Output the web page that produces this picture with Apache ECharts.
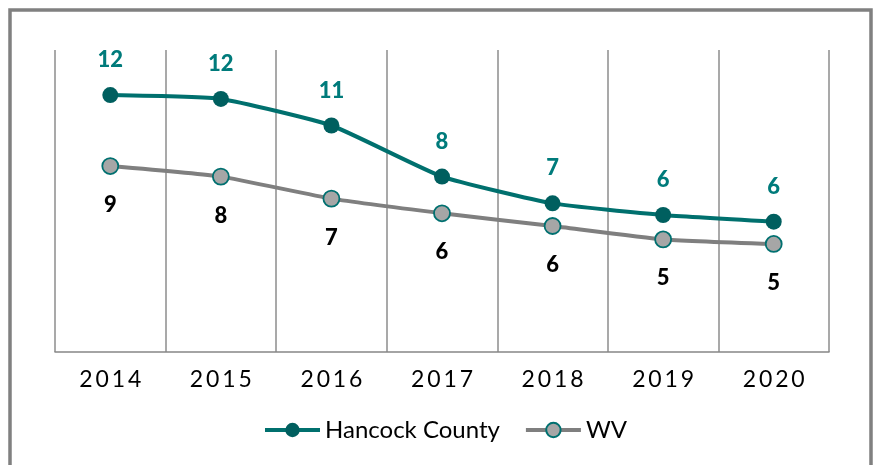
<!DOCTYPE html>
<html>
<head>
<meta charset="utf-8">
<script src="https://cdn.jsdelivr.net/npm/echarts@6/dist/echarts.min.js"></script>
<style>
  html, body { margin: 0; padding: 0; background: #fff; }
  #chart { width: 875px; height: 465px; }
</style>
</head>
<body>
<div id="chart"></div>
<script>
// values (labels show the rounded value)
const years = ['2014', '2015', '2016', '2017', '2018', '2019', '2020']
const hancock = [11.91, 11.73, 10.5, 8.13, 6.89, 6.35, 6.04]
const wv = [8.62, 8.13, 7.11, 6.43, 5.84, 5.22, 5.01]

const chart = echarts.init(document.getElementById('chart'))

const font = 'Lato, "Open Sans", sans-serif'

chart.setOption({
  animation: false,
  graphic: [{
    type: 'rect',
    shape: { x: 10, y: 10, width: 861, height: 480 },
    style: { fill: 'none', stroke: '#808080', lineWidth: 3.5 },
    silent: true
  }],
  grid: { left: 55, right: 46, top: 50, bottom: 113 },
  legend: {
    left: 258,
    top: 413,
    itemWidth: 55,
    itemHeight: 18,
    itemGap: 24,
    lineStyle: { width: 4 },
    textStyle: { fontFamily: font, fontSize: 24, color: '#000' },
    data: ['Hancock County', 'WV']
  },
  xAxis: {
    type: 'category',
    data: years,
    boundaryGap: true,
    axisLine: { lineStyle: { color: '#868686', width: 1.5 } },
    axisTick: { length: 8, lineStyle: { color: '#868686', width: 1.5 } },
    splitLine: { show: true, lineStyle: { color: '#8c8c8c', width: 1.5 } },
    axisLabel: {
      margin: 16,
      fontFamily: font,
      fontSize: 23,
      color: '#000',
      formatter: v => v.split('').join('\u2009')
    }
  },
  yAxis: {
    type: 'value',
    min: 0,
    max: 14,
    show: false
  },
  series: [
    {
      name: 'Hancock County',
      type: 'line',
      data: hancock,
      smooth: 0.15,
      symbol: 'circle',
      symbolSize: 16,
      lineStyle: { color: '#00706e', width: 4 },
      itemStyle: { color: '#005f5f' },
      label: {
        show: true,
        position: 'top',
        distance: 16,
        fontFamily: font,
        fontWeight: 900,
        fontSize: 22,
        color: '#007b7b',
        formatter: p => Math.round(p.value)
      }
    },
    {
      name: 'WV',
      type: 'line',
      data: wv,
      smooth: 0.15,
      symbol: 'circle',
      symbolSize: 16,
      lineStyle: { color: '#7f7f7f', width: 4 },
      itemStyle: { color: '#a6a6a6', borderColor: '#007070', borderWidth: 1.8 },
      label: {
        show: true,
        position: 'bottom',
        distance: 19,
        fontFamily: font,
        fontWeight: 900,
        fontSize: 22,
        color: '#000',
        formatter: p => Math.round(p.value)
      }
    }
  ]
})

window.addEventListener('resize', () => chart.resize())
</script>
</body>
</html>
